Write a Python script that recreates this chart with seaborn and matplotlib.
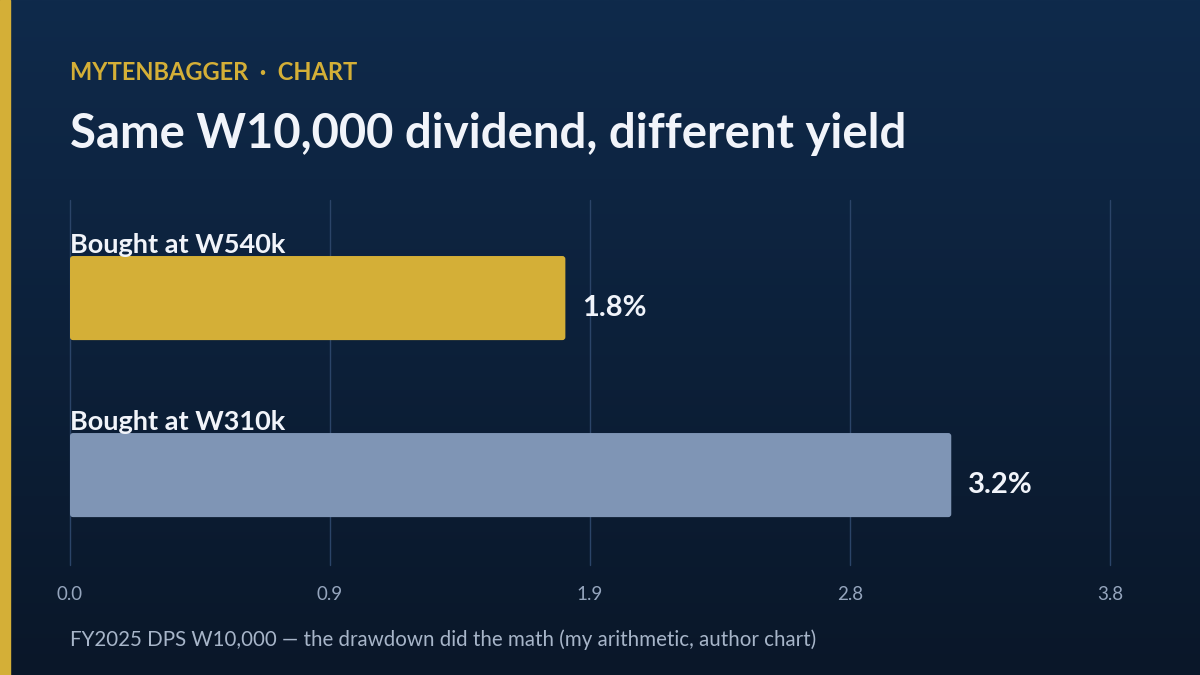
import numpy as np
import pandas as pd
import matplotlib.pyplot as plt
import seaborn as sns
from matplotlib.patches import FancyBboxPatch, Rectangle
from matplotlib.colors import LinearSegmentedColormap

# data
labels = ["Bought at W540k", "Bought at W310k"]
yields = [1.81, 3.22]
value_text = ["1.8%", "3.2%"]
tick_values = [0.0, 0.95, 1.9, 2.85, 3.8]
tick_labels = ["0.0", "0.9", "1.9", "2.8", "3.8"]
bar_colors = ["#D4AF37", "#7F95B5"]

df = pd.DataFrame({"label": labels, "yield": yields})

sns.set_theme(style="dark")
plt.rcParams["font.family"] = ["Lato", "DejaVu Sans"]

fig = plt.figure(figsize=(12, 6.75), dpi=100)

# gradient background + gold stripe
bg = fig.add_axes([0, 0, 1, 1], zorder=-10)
cmap = LinearSegmentedColormap.from_list("bg", ["#0F2A4B", "#0A1729"])
bg.imshow(np.linspace(0, 1, 256).reshape(-1, 1), aspect="auto", cmap=cmap,
          extent=[0, 1, 0, 1])
bg.add_patch(Rectangle((0, 0), 10 / 1200, 1, color="#D4AF37", transform=bg.transAxes))
bg.set_axis_off()

ax = fig.add_axes([70 / 1200, 110 / 675, 1040 / 1200, 365 / 675])
ax.set_facecolor("none")
sns.barplot(data=df, x="yield", y="label", hue="label", palette=bar_colors,
            orient="h", width=0.475, legend=False, ax=ax)

ax.set_xlim(0, 3.8)
ax.set_ylim(1.508, -0.554)

# rounded corners (~3px)
x_per_px = 3.8 / 1040
y_per_px = 2.062 / 365
for patch, color in zip(list(ax.patches), bar_colors):
    x0, y0 = patch.get_x(), patch.get_y()
    w, h = patch.get_width(), patch.get_height()
    patch.remove()
    ax.add_patch(FancyBboxPatch((x0, y0), w, h,
                                boxstyle=f"round,pad=0,rounding_size={3 * x_per_px}",
                                mutation_aspect=y_per_px / x_per_px,
                                facecolor=color, edgecolor="none", zorder=3))

ax.set_xticks(tick_values)
ax.set_xticklabels(tick_labels, color="#95A5BD", fontsize=13.5)
ax.set_yticks([])
ax.set_xlabel("")
ax.set_ylabel("")
ax.tick_params(axis="x", length=0, pad=15)
ax.grid(axis="x", color="#2B4468", linewidth=1)
ax.grid(axis="y", visible=False)
for gl in ax.xaxis.get_gridlines():
    gl.set_clip_on(False)
for s in ax.spines.values():
    s.set_visible(False)

for i, (lab, v, t) in enumerate(zip(labels, yields, value_text)):
    ax.text(0, i - 0.255, lab, ha="left", va="baseline", color="#F1F4FA",
            fontsize=19.5, fontweight="bold", zorder=4)
    ax.text(v + 0.06, i + 0.10, t, ha="left", va="baseline", color="#F1F4FA",
            fontsize=21, fontweight="bold", zorder=4)

fig.text(70 / 1200, 1 - 73 / 675, "MYTENBAGGER  \u00b7  CHART", color="#D4AF37",
         fontsize=17, fontweight="bold", va="center", ha="left")
fig.text(70 / 1200, 1 - 134 / 675, "Same W10,000 dividend, different yield",
         color="#F1F4FA", fontsize=34, fontweight="bold", va="center", ha="left")
fig.text(70 / 1200, 1 - 640 / 675,
         "FY2025 DPS W10,000 \u2014 the drawdown did the math (my arithmetic, author chart)",
         color="#A7B5C9", fontsize=14.8, va="center", ha="left")

fig.savefig("out.png", dpi=100)
